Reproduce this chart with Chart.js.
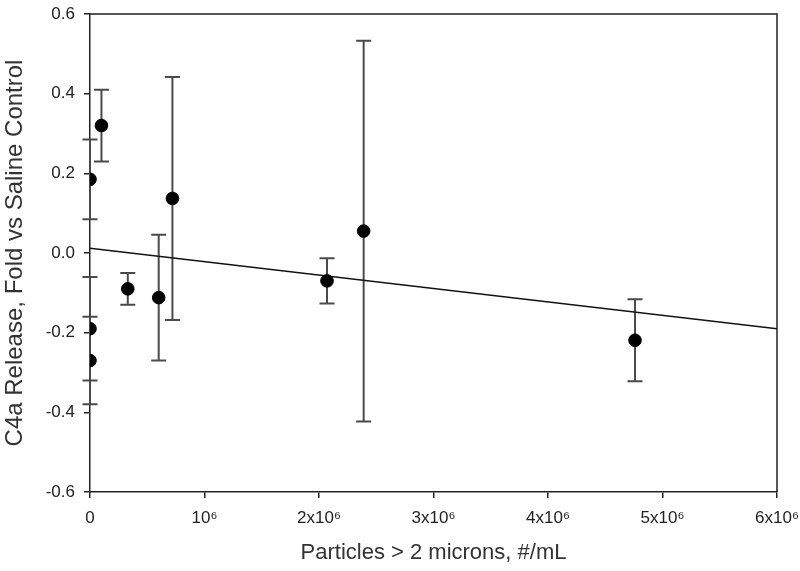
<!DOCTYPE html>
<html>
<head>
<meta charset="utf-8">
<script src="https://cdn.jsdelivr.net/npm/chart.js@4"></script>
<style>
  html, body { margin: 0; padding: 0; background: #ffffff; }
  #wrap { width: 800px; height: 571px; }
</style>
</head>
<body>
<div id="wrap"><canvas id="c" width="800" height="571"></canvas></div>
<script>
// ---- data ----
const particles = [0, 0, 0, 100000, 330000, 600000, 720000, 2070000, 2390000, 4760000];
const c4aRelease = [0.185, -0.19, -0.27, 0.32, -0.09, -0.112, 0.137, -0.07, 0.055, -0.219];
const c4aError = [0.10, 0.13, 0.11, 0.09, 0.04, 0.158, 0.305, 0.057, 0.478, 0.103];
const fitX = [0, 6000000];
const fitY = [0.012, -0.19];
const xTickValues = [0, 1000000, 2000000, 3000000, 4000000, 5000000, 6000000];
const xTickLabels = ['0', '10\u2076', '2x10\u2076', '3x10\u2076', '4x10\u2076', '5x10\u2076', '6x10\u2076'];
const yTickValues = [-0.6, -0.4, -0.2, 0.0, 0.2, 0.4, 0.6];
const yTickLabels = ['-0.6', '-0.4', '-0.2', '0.0', '0.2', '0.4', '0.6'];

const FONT = "'Liberation Sans', Arial, sans-serif";

const errorBars = {
  id: 'errorBars',
  beforeDatasetsDraw(chart) {
    const ctx = chart.ctx;
    const xs = chart.scales.x, ys = chart.scales.y;
    ctx.save();
    ctx.strokeStyle = '#4a4a4a';
    ctx.lineWidth = 2;
    const cap = 7.5;
    for (let i = 0; i < particles.length; i++) {
      const px = xs.getPixelForValue(particles[i]);
      const hi = ys.getPixelForValue(c4aRelease[i] + c4aError[i]);
      const lo = ys.getPixelForValue(c4aRelease[i] - c4aError[i]);
      ctx.beginPath();
      ctx.moveTo(px, hi); ctx.lineTo(px, lo);
      ctx.moveTo(px - cap, hi); ctx.lineTo(px + cap, hi);
      ctx.moveTo(px - cap, lo); ctx.lineTo(px + cap, lo);
      ctx.stroke();
    }
    ctx.restore();
  }
};

const frame = {
  id: 'frame',
  afterDraw(chart) {
    const a = chart.chartArea, ctx = chart.ctx;
    ctx.save();
    ctx.strokeStyle = '#222';
    ctx.lineWidth = 1.5;
    ctx.beginPath();
    ctx.moveTo(a.left, a.top); ctx.lineTo(a.right, a.top); ctx.lineTo(a.right, a.bottom);
    ctx.stroke();
    ctx.restore();
  }
};

new Chart(document.getElementById('c'), {
  type: 'scatter',
  data: {
    datasets: [
      {
        type: 'line',
        data: fitX.map((x, i) => ({ x, y: fitY[i] })),
        borderColor: '#111',
        borderWidth: 1.5,
        pointRadius: 0,
        fill: false,
        order: 2
      },
      {
        data: particles.map((x, i) => ({ x, y: c4aRelease[i] })),
        backgroundColor: '#000',
        borderColor: '#000',
        pointRadius: 6.3,
        pointHoverRadius: 6.3,
        order: 1
      }
    ]
  },
  options: {
    responsive: false,
    animation: false,
    devicePixelRatio: 1,
    layout: { padding: { top: 14, right: 23, left: 0, bottom: 0 } },
    plugins: { legend: { display: false }, tooltip: { enabled: false } },
    scales: {
      x: {
        type: 'linear',
        min: 0, max: 6000000,
        afterFit(s) { s.height = 79; s.paddingLeft = 0; s.paddingRight = 0; },
        afterBuildTicks(s) { s.ticks = xTickValues.map(v => ({ value: v })); },
        ticks: {
          callback: (v) => xTickLabels[xTickValues.indexOf(v)],
          font: { family: FONT, size: 17 },
          color: '#222',
          padding: 10,
          maxRotation: 0,
          autoSkip: false
        },
        grid: { drawOnChartArea: false, drawTicks: true, tickLength: 6, color: '#222', lineWidth: 1.5 },
        border: { display: true, color: '#222', width: 1.5 },
        title: {
          display: true,
          text: 'Particles > 2 microns, #/mL',
          font: { family: FONT, size: 22 },
          color: '#333',
          padding: { top: 0, bottom: 5 }
        }
      },
      y: {
        type: 'linear',
        min: -0.6, max: 0.6,
        afterFit(s) { s.width = 90; s.paddingTop = 0; s.paddingBottom = 0; },
        afterBuildTicks(s) { s.ticks = yTickValues.map(v => ({ value: v })); },
        ticks: {
          callback: (v) => yTickLabels[yTickValues.findIndex(t => Math.abs(t - v) < 1e-9)],
          font: { family: FONT, size: 17 },
          color: '#222',
          padding: 9
        },
        grid: { drawOnChartArea: false, drawTicks: true, tickLength: 6, color: '#222', lineWidth: 1.5 },
        border: { display: true, color: '#222', width: 1.5 },
        title: {
          display: true,
          text: 'C4a Release, Fold vs Saline Control',
          font: { family: FONT, size: 24 },
          color: '#333',
          padding: { top: 1, bottom: 0 }
        }
      }
    }
  },
  plugins: [errorBars, frame]
});
</script>
</body>
</html>
